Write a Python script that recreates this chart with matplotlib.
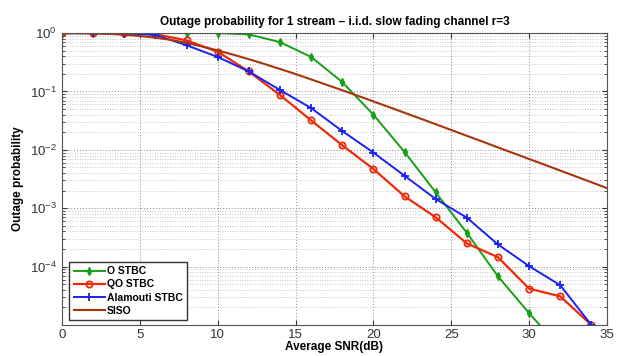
import matplotlib
matplotlib.use("Agg")
import matplotlib.pyplot as plt
from matplotlib.ticker import LogLocator, NullFormatter

plt.rcParams["font.family"] = ["Liberation Sans", "DejaVu Sans"]

# SNR grid (dB) for the coded schemes
snr = [0, 2, 4, 6, 8, 10, 12, 14, 16, 18, 20, 22, 24, 26, 28, 30, 32, 34]

o_stbc = [1.0, 1.0, 1.0, 1.0, 1.0, 1.0, 0.95, 0.70, 0.39, 0.145, 0.040, 0.0092,
          1.87e-3, 3.8e-4, 6.8e-5, 1.6e-5, 4e-6, 1e-6]
qo_stbc = [1.0, 1.0, 0.99, 0.96, 0.75, 0.48, 0.22, 0.087, 0.032, 0.012, 0.0047,
           0.0016, 7.0e-4, 2.5e-4, 1.45e-4, 4.2e-5, 3.1e-5, 1.0e-5]
alamouti = [1.0, 1.0, 0.98, 0.93, 0.62, 0.39, 0.22, 0.106, 0.052, 0.021, 0.0090,
            0.0036, 1.44e-3, 6.9e-4, 2.4e-4, 1.02e-4, 4.8e-5, 1.0e-5]

# SISO curve, read every 1 dB
snr_siso = list(range(0, 36))
siso = [0.999, 0.996, 0.988, 0.970, 0.938, 0.891, 0.835, 0.765, 0.680, 0.590,
        0.503, 0.427, 0.357, 0.296, 0.243, 0.199, 0.161, 0.130, 0.105, 0.0843,
        0.0676, 0.0541, 0.0432, 0.0345, 0.0275, 0.0219, 0.0174, 0.0139, 0.0110,
        0.00877, 0.00698, 0.00556, 0.00442, 0.00351, 0.00279, 0.00221]

fig = plt.figure(figsize=(6.2, 3.56), dpi=100)
ax = fig.add_axes([0.100, 0.087, 0.879, 0.820])

ax.semilogy(snr, o_stbc, color="#16a016", lw=1.4, marker="d", ms=4,
            mfc="#16a016", label="O STBC")
ax.semilogy(snr, qo_stbc, color="#ee2a0a", lw=1.6, marker="o", ms=4.5,
            mfc="none", mew=1.3, label="QO STBC")
ax.semilogy(snr, alamouti, color="#1a22f0", lw=1.4, marker="+", ms=6,
            mew=1.3, label="Alamouti STBC")
ax.semilogy(snr_siso, siso, color="#a8340c", lw=1.5, label="SISO")

ax.set_xlim(0, 35)
ax.set_ylim(1e-5, 1)
ax.set_xticks([0, 5, 10, 15, 20, 25, 30, 35])
ax.yaxis.set_major_locator(LogLocator(base=10, numticks=10))
ax.yaxis.set_minor_locator(LogLocator(base=10, subs=[2, 3, 4, 5, 6, 7, 8, 9], numticks=10))
ax.yaxis.set_minor_formatter(NullFormatter())
ax.set_yticks([1e-4, 1e-3, 1e-2, 1e-1, 1])

ax.grid(True, which="major", ls=(0, (1, 2)), color="#8a8a8a", lw=0.7)
ax.grid(True, which="minor", axis="y", ls=(0, (1, 2)), color="#b4b4b4", lw=0.6)
ax.tick_params(which="both", direction="in", top=True, right=True,
               labelsize=9.5, colors="#333333")
ax.tick_params(axis="x", pad=3)
for s in ax.spines.values():
    s.set_color("#555555")
    s.set_linewidth(0.8)

ax.set_title("Outage probability for 1 stream \u2013 i.i.d. slow fading channel r=3",
             fontsize=8.5, fontweight="bold", pad=6)
ax.set_xlabel("Average SNR(dB)", fontsize=8.5, fontweight="bold", labelpad=0)
ax.set_ylabel("Outage probability", fontsize=8.5, fontweight="bold")

leg = ax.legend(loc="lower left", prop={"weight": "bold", "size": 7.5},
                fancybox=False, framealpha=1, edgecolor="#333333",
                borderpad=0.4, labelspacing=0.3, handlelength=3.0,
                handletextpad=0.2, bbox_to_anchor=(0.004, 0.0))

fig.savefig("out.png", dpi=100)
